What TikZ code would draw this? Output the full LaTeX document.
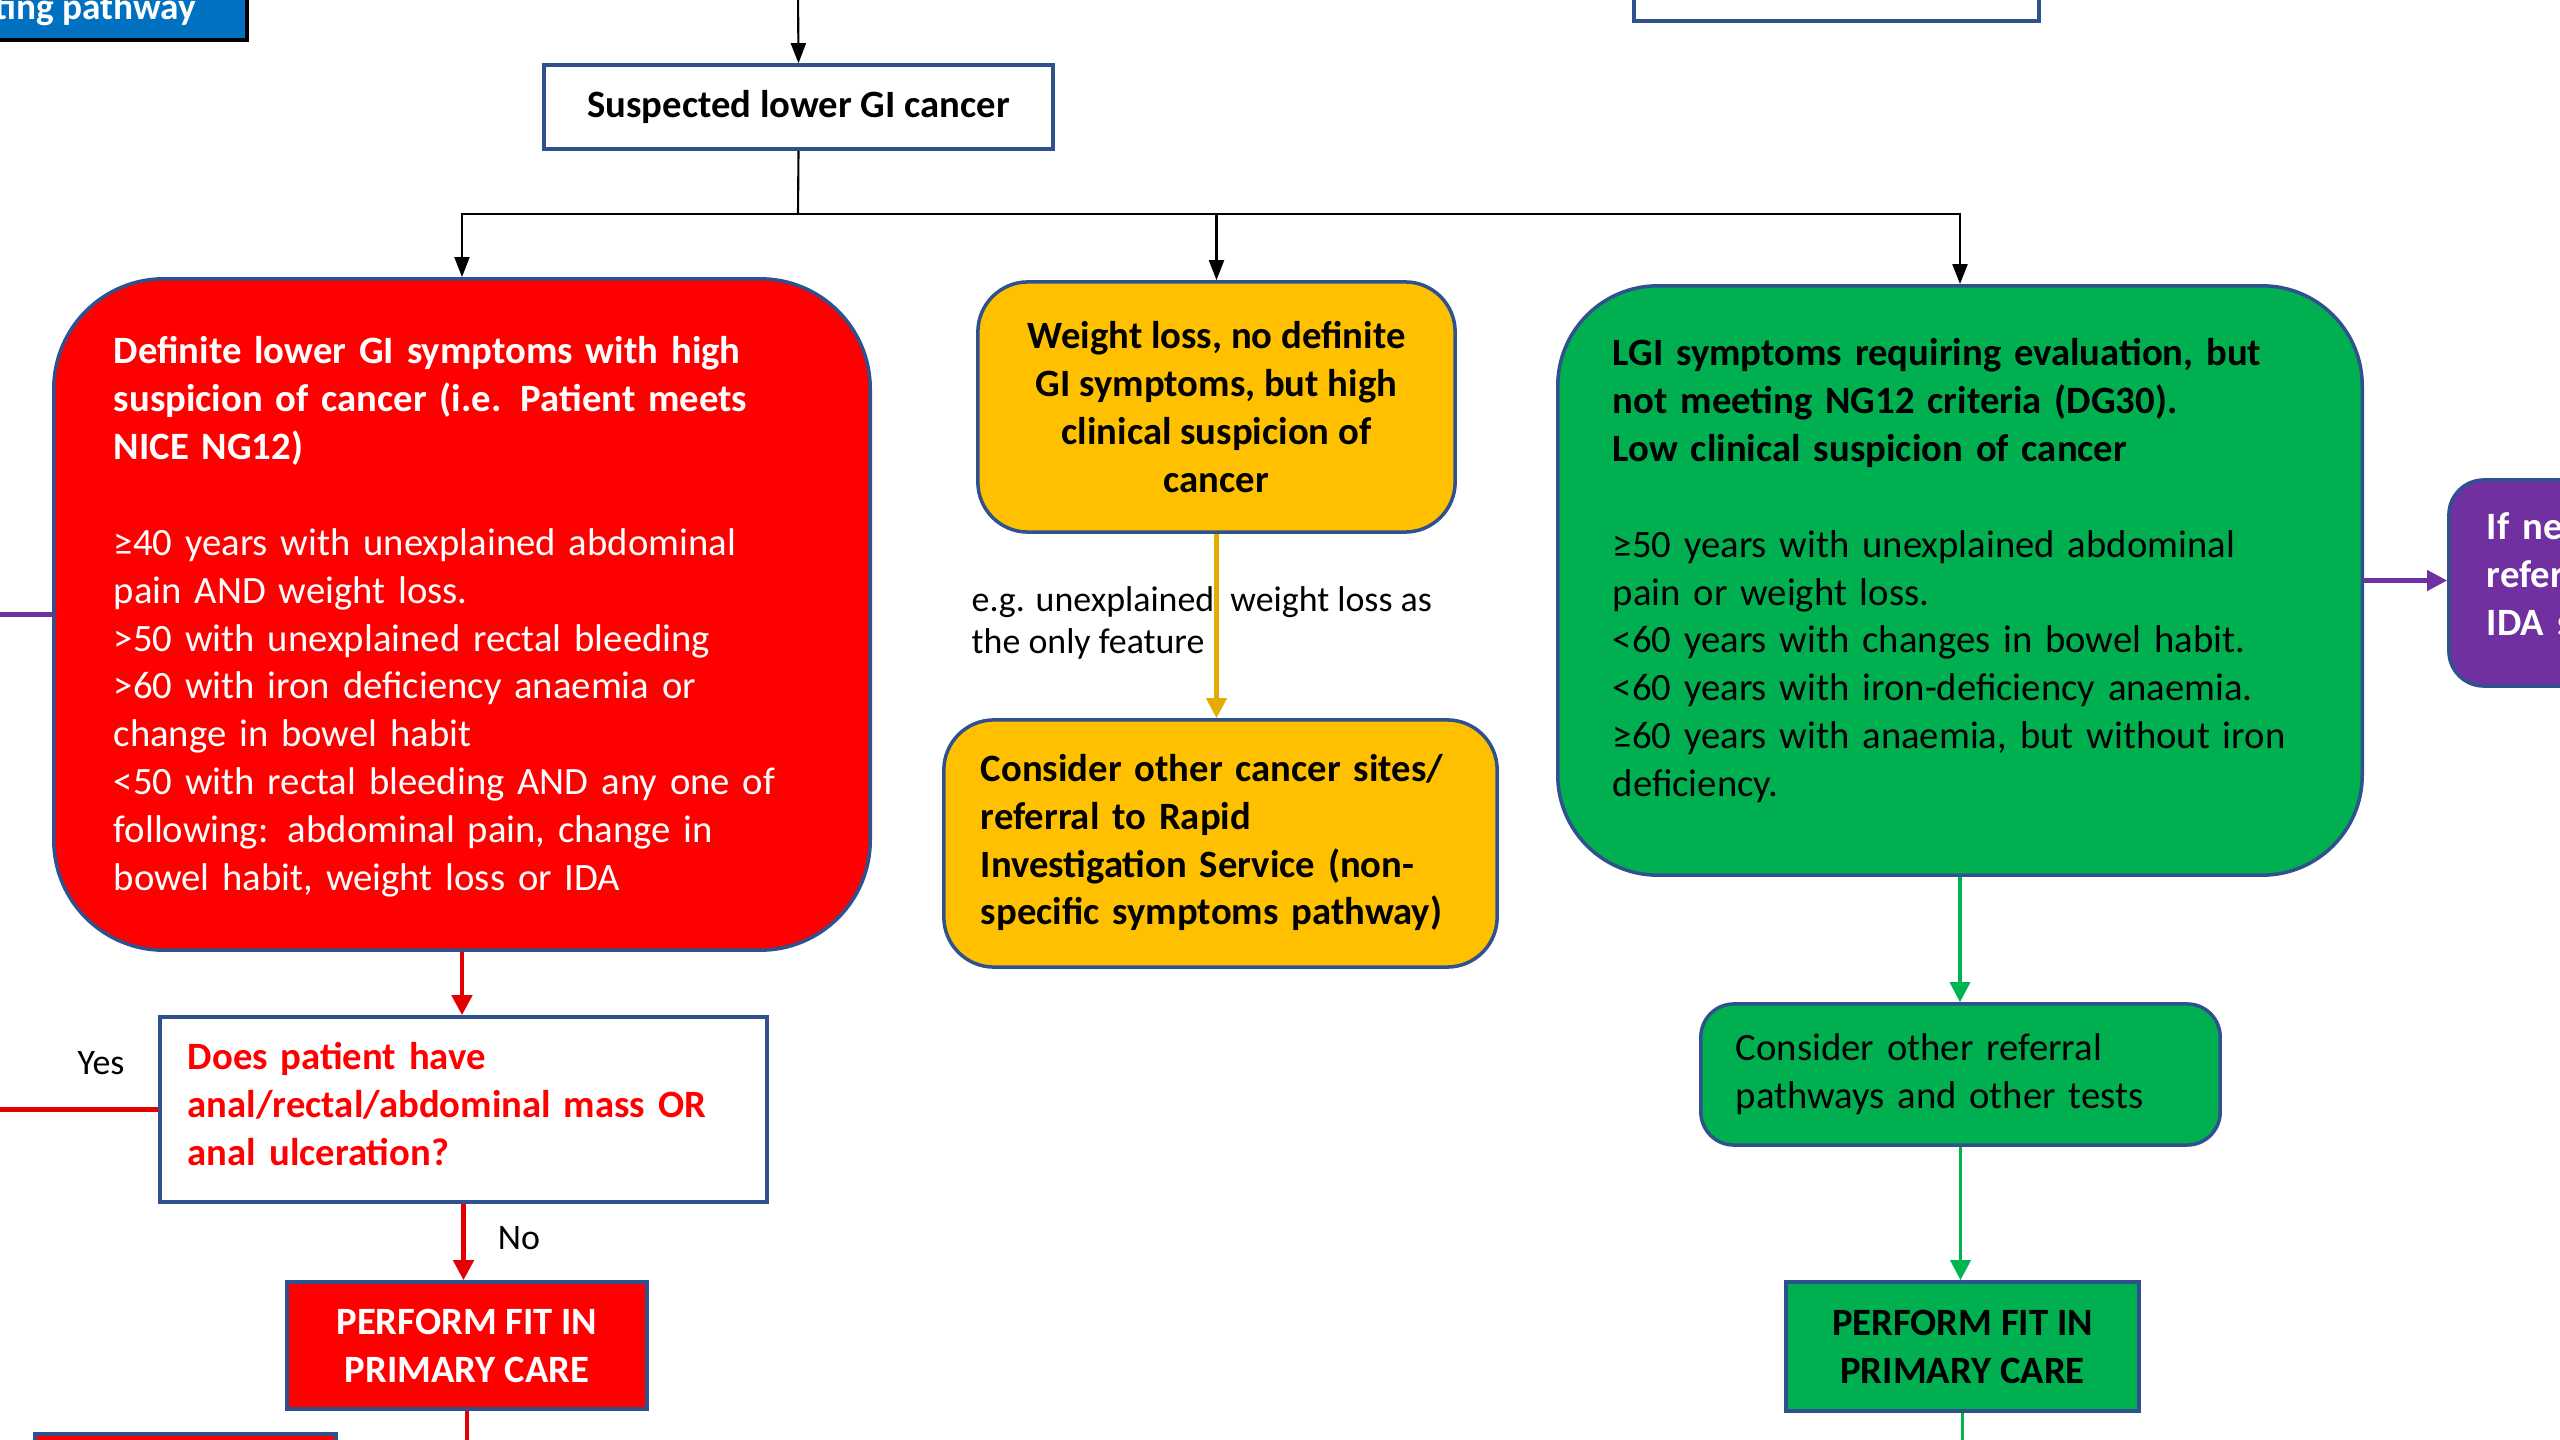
\documentclass[tikz,border=0pt]{standalone}
\usepackage{fontspec}
\setmainfont{Carlito}
\usetikzlibrary{arrows.meta}

\definecolor{nhsblue}{RGB}{0,112,192}
\definecolor{edge}{RGB}{47,82,143}
\definecolor{boxred}{RGB}{255,0,0}
\definecolor{boxyellow}{RGB}{255,192,0}
\definecolor{boxgreen}{RGB}{0,176,80}
\definecolor{boxpurple}{RGB}{112,48,160}
\definecolor{linered}{RGB}{226,0,0}
\definecolor{linegold}{RGB}{228,172,0}
\definecolor{linegreen}{RGB}{0,180,80}
\definecolor{linepurple}{RGB}{112,48,160}

\newcommand\bodyfont{\fontsize{11}{13.63}\selectfont}
\newcommand\smallfont{\fontsize{10.2}{12.1}\selectfont}
\newcommand\textrows[1]{\begin{tabular}{@{}l@{}}#1\end{tabular}}

\begin{document}
\begin{tikzpicture}[x=0.01cm,y=-0.01cm,
  base/.style={draw=edge, line width=1pt, inner ysep=0pt, font=\bodyfont},
  leftbox/.style={base, align=left},
  midbox/.style={base, align=center},
  blk/.style={draw=black, line width=0.6pt, -{Triangle[width=0.15cm,length=0.2cm]}},
  blkline/.style={draw=black, line width=0.6pt},
  redarr/.style={draw=linered, line width=1.3pt, -{Triangle[width=0.2cm,length=0.2cm]}},
  redline/.style={draw=linered, line width=1.3pt},
  goldarr/.style={draw=linegold, line width=1.2pt, -{Triangle[width=0.2cm,length=0.2cm]}},
  greenarr/.style={draw=linegreen, line width=1pt, -{Triangle[width=0.2cm,length=0.2cm]}},
  greenline/.style={draw=linegreen, line width=1pt},
  purarr/.style={draw=linepurple, line width=1.2pt, -{Triangle[width=0.2cm,length=0.2cm]}},
  purline/.style={draw=linepurple, line width=1.2pt},
  lbl/.style={inner sep=0pt, font=\smallfont}
]
\useasboundingbox (0,0) rectangle (2560,1440);
\clip (0,0) rectangle (2560,1440);
\fill[white] (0,0) rectangle (2560,1440);

% ---- header boxes (cut by the page edge) ----
\node[fill=nhsblue, draw=black, line width=1.15pt, minimum width=2.87cm, minimum height=1cm, inner sep=0pt]
  (title) at (103.5,-10) {};
\node[anchor=base east, inner sep=0pt, text=white, font=\fontsize{10.6}{13}\selectfont\bfseries]
  (titletext) at (197,20) {ting pathway};
\node[base, fill=white, minimum width=4.05cm, minimum height=1.02cm] (topright) at (1836.5,-30) {};

% ---- entry box ----
\node[midbox, fill=white, minimum width=5.09cm, minimum height=0.84cm, font=\bodyfont\bfseries]
  (sus) at (798.5,107) {Suspected lower GI cancer};

% ---- red branch ----
\node[leftbox, fill=boxred, text=white, rounded corners=1.1cm,
  minimum width=8.16cm, minimum height=6.71cm, text width=6.96cm, inner xsep=0.6cm]
  (red) at (462,614.5) {\textrows{%
  \textbf{Definite lower GI symptoms with high}\\
  \textbf{suspicion of cancer (i.e. Patient meets}\\
  \textbf{NICE NG12)}\\[13.63pt]
  ≥40 years with unexplained abdominal\\
  pain AND weight loss.\\
  >50 with unexplained rectal bleeding\\
  >60 with iron deficiency anaemia or\\
  change in bowel habit\\
  <50 with rectal bleeding AND any one of\\
  following: abdominal pain, change in\\
  bowel habit, weight loss or IDA\\[-0.06cm]}};

\node[leftbox, fill=white, text=boxred,
  minimum width=6.07cm, minimum height=1.85cm, text width=5.51cm, inner xsep=0.28cm]
  (ask) at (463.5,1109.5) {\textrows{%
  \textbf{Does patient have}\\
  \textbf{anal/rectal/abdominal mass OR}\\
  \textbf{anal ulceration?}\\[0.04cm]}};

\node[midbox, fill=boxred, text=white, font=\bodyfont\bfseries,
  minimum width=3.6cm, minimum height=1.27cm]
  (fitred) at (467,1345.5) {PERFORM FIT IN\\PRIMARY CARE};

\node[base, fill=boxred, minimum width=3.01cm, minimum height=0.66cm] (nextred) at (185.5,1467) {};

% ---- yellow branch ----
\node[midbox, fill=boxyellow, font=\bodyfont\bfseries, rounded corners=0.5cm,
  minimum width=4.77cm, minimum height=2.5cm]
  (weight) at (1216.5,407) {Weight loss, no definite\\GI symptoms, but high\\clinical suspicion of\\cancer};

\node[leftbox, fill=boxyellow, rounded corners=0.5cm,
  minimum width=5.53cm, minimum height=2.47cm, text width=4.79cm, inner xsep=0.37cm]
  (rapid) at (1220.5,843.5) {\textrows{%
  \textbf{Consider other cancer sites/}\\
  \textbf{referral to Rapid}\\
  \textbf{Investigation Service (non-}\\
  \textbf{specific symptoms pathway)}}};

% ---- green branch ----
\node[leftbox, fill=boxgreen, rounded corners=1.0cm,
  minimum width=8.04cm, minimum height=5.89cm, text width=6.94cm, inner xsep=0.55cm]
  (green) at (1960,580.5) {\textrows{%
  \textbf{LGI symptoms requiring evaluation, but}\\
  \textbf{not meeting NG12 criteria (DG30).}\\
  \textbf{Low clinical suspicion of cancer}\\[13.63pt]
  ≥50 years with unexplained abdominal\\
  pain or weight loss.\\
  <60 years with changes in bowel habit.\\
  <60 years with iron-deficiency anaemia.\\
  ≥60 years with anaemia, but without iron\\
  deficiency.\\[0.18cm]}};

\node[leftbox, fill=boxpurple, text=white, rounded corners=0.35cm,
  minimum width=4cm, minimum height=2.06cm, text width=3.24cm, inner xsep=0.38cm]
  (ida) at (2649,583) {\textrows{%
  \textbf{If ne}\\
  \textbf{refer}\\
  \textbf{IDA s}\\[0.1cm]}};

\node[leftbox, fill=boxgreen, rounded corners=0.33cm,
  minimum width=5.19cm, minimum height=1.41cm, text width=4.49cm, inner xsep=0.35cm]
  (otherpath) at (1960.5,1074.5) {\textrows{%
  Consider other referral\\
  pathways and other tests}};

\node[midbox, fill=boxgreen, font=\bodyfont\bfseries,
  minimum width=3.53cm, minimum height=1.29cm]
  (fitgreen) at (1962.5,1346.5) {PERFORM FIT IN\\PRIMARY CARE};

% ---- labels ----
\node[lbl, anchor=west] (eg) at (971,624) {\textrows{%
  e.g. unexplained \ weight loss as\\
  the only feature}};
\node[lbl] (yes) at (101,1063) {Yes};
\node[lbl] (no) at (519,1238) {No};

% ---- connectors ----
\coordinate (entry) at (798,-10);
\coordinate (split) at (798,214);
\draw[blk] (entry) -- (sus.north);
\draw[blkline] (sus.south) -- (split);
\draw[blk] (split) -| (red.north);
\draw[blk] (split) -| (weight.north);
\draw[blk] (split) -| (green.north);

\draw[goldarr] (weight.south) -- (weight.south |- rapid.north);

\draw[redarr] (red.south) -- (red.south |- ask.north);
\draw[redarr] (ask.south) -- (ask.south |- fitred.north);
\coordinate (redexit) at (467,1450);
\draw[redline] (fitred.south) -- (redexit);
\coordinate (yesexit) at (-10,1109.5);
\draw[redline, line width=1.5pt] (ask.west) -- (yesexit);

\coordinate (purexit) at (-10,614.5);
\draw[purline] (red.west) -- (purexit);
\draw[purarr] (green.east) -- (green.east -| ida.west);

\draw[greenarr] (green.south) -- (green.south |- otherpath.north);
\draw[greenarr] (otherpath.south) -- (otherpath.south |- fitgreen.north);
\coordinate (greenexit) at (1962.5,1450);
\draw[greenline] (fitgreen.south) -- (greenexit);
\end{tikzpicture}
\end{document}
